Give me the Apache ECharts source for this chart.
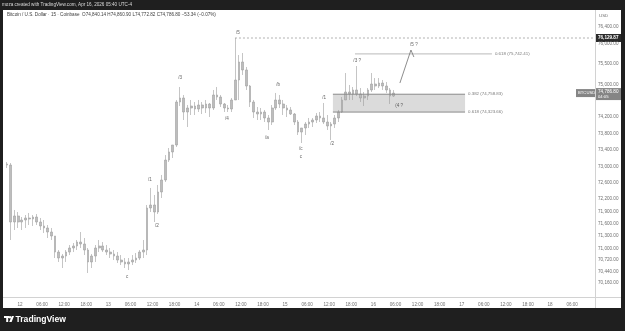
<!DOCTYPE html>
<html><head><meta charset="utf-8">
<script src="https://cdn.jsdelivr.net/npm/echarts@6/dist/echarts.min.js"></script>
<style>html,body{margin:0;padding:0;background:#1e1e1e;}#c{width:625px;height:331px;}</style>
</head><body><div id="c"></div>
<script>
// hourly buckets (hours since Apr 12 00:00, UTC-4)
const hours = [-4,-3,-2,-1,0,1,2,3,4,5,6,7,8,9,10,11,12,13,14,15,16,17,18,19,20,21,22,23,24,25,26,27,28,29,30,31,32,33,34,35,36,37,38,39,40,41,42,43,44,45,46,47,48,49,50,51,52,53,54,55,56,57,58,59,60,61,62,63,64,65,66,67,68,69,70,71,72,73,74,75,76,77,78,79,80,81,82,83,84,85,86,87,88,89,90,91,92,93,94,95,96,97,98,99,100,101];
const open = [73057,73032,71642,71789,71642,71691,71740,71715,71764,71642,71545,71496,71398,71301,70910,70764,70813,70910,71008,71057,71154,71106,70959,70667,70813,71008,71057,70959,70910,70862,70813,70715,70667,70618,70667,70715,70764,70910,70959,71984,72057,71886,72374,72667,73154,73350,73520,74569,74667,74325,74423,74471,74398,74496,74423,74520,74423,74740,74691,74520,74423,74398,74618,75106,75545,75350,74959,74569,74325,74276,74325,74179,74081,74423,74618,74520,74423,74374,74276,74081,73837,73935,74032,74081,74130,74228,74179,74081,73984,74032,74179,74325,74618,74813,74764,74862,74764,74667,74715,74862,75008,74959,75032,74959,74862,74715];
const close = [73032,71642,71789,71642,71691,71740,71715,71764,71642,71545,71496,71398,71301,70910,70764,70813,70910,71008,71057,71154,71106,70959,70667,70813,71008,71057,70959,70910,70862,70813,70715,70667,70618,70667,70715,70764,70910,70959,71984,72057,71886,72374,72667,73154,73350,73520,74569,74667,74325,74423,74471,74398,74496,74423,74520,74423,74740,74691,74520,74423,74398,74618,75106,75545,75350,74959,74569,74325,74276,74325,74179,74081,74423,74618,74520,74423,74374,74276,74081,73837,73935,74032,74081,74130,74228,74179,74081,73984,74032,74179,74325,74618,74813,74764,74862,74764,74667,74715,74862,75008,74959,75032,74959,74862,74715,74786.80];
const low = [72959,71203,71447,71496,71447,71496,71569,71545,71569,71447,71374,71252,71203,70764,70667,70520,70667,70837,70910,70959,71008,70837,70398,70520,70667,70910,70910,70837,70764,70715,70642,70593,70520,70471,70593,70642,70715,70764,70837,71886,71642,71837,72228,72618,73106,73203,73472,74471,74130,73959,74252,74252,74325,74276,74301,74203,74374,74618,74447,74325,74325,74325,74618,74618,75228,74862,74447,74179,74130,74130,74081,73886,74008,74374,74423,74252,74203,74252,74008,73764,73569,73764,73935,73959,74057,74081,74032,73886,73642,73935,74081,74301,74618,74618,74618,74715,74569,74471,74618,74813,74862,74910,74862,74789,74520,74691];
const high = [73106,73081,71935,71886,71764,71813,71862,71813,71837,71740,71691,71569,71496,71301,70959,70862,70959,71081,71130,71203,71398,71252,71008,70862,71081,71203,71154,71081,71008,70959,70910,70837,70764,70764,70837,70886,70959,71203,72057,72472,72301,72545,72789,73276,73447,73520,74618,74935,74740,74496,74618,74569,74618,74569,74618,74545,74862,74935,74740,74545,74496,74667,76129.87,75715,75764,75423,74984,74618,74447,74423,74374,74252,74496,74789,74740,74618,74496,74447,74301,74130,73935,74081,74179,74179,74301,74325,74545,74252,74081,74252,74374,74691,75276,74984,74935,75447,74910,74813,74910,75276,75154,75154,75106,75057,74910,74861];

// axis ticks
const timeTicks = [0,6,12,18,24,30,36,42,48,54,60,66,72,78,84,90,96,102,108,114,120,126,132,138,144,150];
const timeLabels = ['12','06:00','12:00','18:00','13','06:00','12:00','18:00','14','06:00','12:00','18:00','15','06:00','12:00','18:00','16','06:00','12:00','18:00','17','06:00','12:00','18:00','18','06:00'];
const priceTicks = [76400,76000,75500,75000,74200,73800,73400,73000,72600,72200,71900,71600,71300,71000,70720,70440,70160];

// annotations
const peakPrice = 76129.87;
const peakFrom = 58.4;
const fibTopPrice = 75742.41, fibTopFrom = 91.0, fibTopTo = 128.2, fibTopText = '0.618 (75,742.41)';
const boxTopPrice = 74758.83, boxBottomPrice = 74323.66, boxFrom = 85.0, boxTo = 120.9;
const boxTopText = '0.382 (74,758.83)', boxBottomText = '0.618 (74,323.66)';
const projX = [103.2, 106.2, 107.0];
const projY = [75032, 75837, 75666];
const waveX = [29.1, 35.3, 37.2, 43.5, 56.2, 59.2, 67.1, 70.1, 76.3, 76.3, 82.6, 84.8, 91.6, 103.0, 107.0];
const waveY = [70301, 72667, 71545, 75154, 74154, 76252, 73691, 74984, 73423, 73228, 74667, 73545, 75569, 74471, 75959];
const waveText = ['c','/1','/2','/3','/4','/5','/a','/b','/c','c','/1','/2','/3 ?','(4 ?','/5 ?'];
const lastPrice = 74786.80;

const xMin = -4.62, xMax = 156.2, yMin = 69813, yMax = 76813;
const FONT = '"Liberation Sans", Arial, sans-serif';
const fmt = v => v.toLocaleString('en-US', {minimumFractionDigits: 2, maximumFractionDigits: 2});

const chart = echarts.init(document.getElementById('c'));
const candles = hours.map((h, i) => [h + 0.5, open[i], close[i], low[i], high[i]]);

function seg(x0, x1, y) { return [[x0, y], [x1, y]]; }

chart.setOption({
  backgroundColor: '#ffffff',
  animation: false,
  grid: {left: 3, right: 30, top: 10, bottom: 34},
  xAxis: {
    type: 'value', min: xMin, max: xMax,
    axisLine: {show: false, onZero: false},
    axisTick: {show: false}, splitLine: {show: false},
    axisLabel: {customValues: timeTicks, formatter: v => timeLabels[timeTicks.indexOf(v)], color: '#707070', fontSize: 4.6, margin: 5, fontFamily: FONT}
  },
  yAxis: {
    type: 'value', position: 'right', min: yMin, max: yMax,
    axisLine: {show: false, onZero: false},
    axisTick: {show: false}, splitLine: {show: false},
    axisLabel: {customValues: priceTicks, formatter: v => fmt(v), color: '#707070', fontSize: 4.6, margin: 3, fontFamily: FONT}
  },
  series: [
    {
      type: 'candlestick', data: candles, encode: {x: 0, y: [1, 2, 3, 4]}, barWidth: 2.2,
      itemStyle: {color: '#bdbdbd', color0: '#bdbdbd', borderColor: '#9d9d9d', borderColor0: '#9d9d9d', borderWidth: 0.6},
      markArea: {silent: true, itemStyle: {color: 'rgba(0,0,0,0.14)'},
        data: [[{coord: [boxFrom, boxTopPrice]}, {coord: [boxTo, boxBottomPrice]}]]}
    },
    {type: 'line', data: seg(boxFrom, boxTo, boxTopPrice), symbol: 'none', lineStyle: {color: '#8a8a8a', width: 1},
      endLabel: {show: true, formatter: boxTopText, color: '#7a7a7a', fontSize: 4.4, fontFamily: FONT, distance: 3}},
    {type: 'line', data: seg(boxFrom, boxTo, boxBottomPrice), symbol: 'none', lineStyle: {color: '#8a8a8a', width: 1},
      endLabel: {show: true, formatter: boxBottomText, color: '#7a7a7a', fontSize: 4.4, fontFamily: FONT, distance: 3}},
    {type: 'line', data: seg(fibTopFrom, fibTopTo, fibTopPrice), symbol: 'none', lineStyle: {color: '#a8a8a8', width: 0.8},
      endLabel: {show: true, formatter: fibTopText, color: '#7a7a7a', fontSize: 4.4, fontFamily: FONT, distance: 3}},
    {type: 'line', data: seg(peakFrom, xMax, peakPrice), symbol: 'none', lineStyle: {color: '#a0a0a0', width: 0.8, type: [2, 2]}},
    {type: 'line', data: projX.map((x, i) => [x, projY[i]]), symbol: 'none', lineStyle: {color: '#707070', width: 0.8}},
    {type: 'scatter', data: waveX.map((x, i) => [x, waveY[i], waveText[i]]), symbolSize: 1, itemStyle: {color: 'rgba(0,0,0,0)'},
      label: {show: true, position: 'inside', formatter: p => p.value[2], color: '#3a3a3a', fontSize: 4.6, fontFamily: FONT}}
  ]
});

const yPeak = chart.convertToPixel({yAxisIndex: 0}, peakPrice);
const yLast = chart.convertToPixel({yAxisIndex: 0}, lastPrice);
const DARK = '#1f1f1f';
const t = (x, y, text, fill, size, extra) => Object.assign({type: 'text', x, y, style: Object.assign({text, fill, fontSize: size, fontFamily: FONT, textVerticalAlign: 'middle'}, extra || {})});

chart.setOption({
  graphic: [
    {type: 'rect', shape: {x: 0, y: 0, width: 625, height: 10}, style: {fill: DARK}},
    {type: 'rect', shape: {x: 0, y: 308, width: 625, height: 23}, style: {fill: DARK}},
    {type: 'rect', shape: {x: 0, y: 0, width: 3, height: 331}, style: {fill: DARK}},
    {type: 'rect', shape: {x: 621, y: 0, width: 4, height: 331}, style: {fill: DARK}},
    {type: 'line', shape: {x1: 3, y1: 297.5, x2: 621, y2: 297.5}, style: {stroke: '#d2d2d2', lineWidth: 1}},
    {type: 'line', shape: {x1: 595.5, y1: 10, x2: 595.5, y2: 308}, style: {stroke: '#d2d2d2', lineWidth: 1}},
    t(2, 5, 'moza created with TradingView.com, Apr 16, 2026 05:40 UTC-4', '#dcdcdc', 4.6),
    t(7, 15, 'Bitcoin / U.S. Dollar · 15 · Coinbase  O74,840.14 H74,860.90 L74,772.82 C74,786.80 −53.34 (−0.07%)', '#3c3c3c', 4.6),
    t(599, 16, 'USD', '#707070', 4.4),
    {type: 'rect', shape: {x: 596, y: yPeak - 4, width: 25, height: 8}, style: {fill: '#2b2b2b'}},
    t(598, yPeak, fmt(peakPrice), '#ffffff', 4.6, {fontWeight: 'bold'}),
    {type: 'rect', shape: {x: 576, y: yLast - 4, width: 19, height: 8}, style: {fill: '#858585'}},
    t(578, yLast, 'BTCUSD', '#ffffff', 4.2),
    {type: 'rect', shape: {x: 596, y: yLast - 5, width: 25, height: 12}, style: {fill: '#858585'}},
    t(598, yLast - 1.5, fmt(lastPrice), '#ffffff', 4.6),
    t(598, yLast + 3.5, '04:05', '#ffffff', 4.2),
    {type: 'rect', shape: {x: 4, y: 316, width: 5, height: 2}, style: {fill: '#ffffff'}},
    {type: 'rect', shape: {x: 6.2, y: 316, width: 2, height: 6}, style: {fill: '#ffffff'}},
    {type: 'circle', shape: {cx: 10, cy: 317.2, r: 1.2}, style: {fill: '#ffffff'}},
    {type: 'polygon', shape: {points: [[9.2, 322], [11.8, 316], [14, 316], [11.6, 322]]}, style: {fill: '#ffffff'}},
    t(15.5, 319.5, 'TradingView', '#ffffff', 8.6, {fontWeight: 'bold'})
  ]
});
</script>
</body></html>
